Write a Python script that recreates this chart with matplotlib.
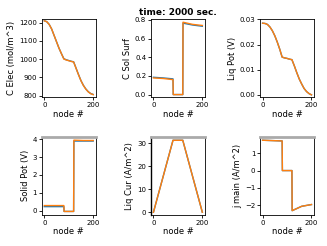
import matplotlib
matplotlib.use('Agg')
import matplotlib.pyplot as plt

# node positions (anode 0-80, separator 80-120, cathode 120-200)
nodes_smooth = [0, 10, 20, 30, 40, 50, 60, 70, 80, 90, 100, 110, 120, 130, 140, 150, 160, 170, 180, 190, 200]
nodes_step = [0, 40, 80, 81, 100, 119, 120, 121, 160, 200]
nodes_cur = [0, 80, 120, 200]

c_elec_prev = [1210, 1205, 1190, 1165, 1130, 1095, 1060, 1030, 1002, 996, 992, 988, 985, 950, 915, 882, 856, 836, 821, 811, 806]
c_elec = [1210, 1205, 1190, 1165, 1130, 1095, 1060, 1030, 1000, 995, 991, 987, 984, 949, 914, 881, 855, 835, 820, 810, 805]

c_sol_prev = [0.185, 0.178, 0.168, 0.0, 0.0, 0.0, 0.0, 0.765, 0.745, 0.732]
c_sol = [0.178, 0.172, 0.160, 0.0, 0.0, 0.0, 0.0, 0.775, 0.752, 0.740]

liq_pot_prev = [0.0285, 0.0284, 0.0280, 0.0270, 0.0255, 0.0235, 0.0210, 0.0182, 0.0150, 0.0147, 0.0145, 0.0142, 0.0140, 0.0115, 0.0088, 0.0063, 0.0043, 0.0025, 0.0013, 0.0005, 0.0]
liq_pot = [0.0285, 0.0284, 0.0280, 0.0270, 0.0255, 0.0235, 0.0210, 0.0182, 0.0150, 0.0147, 0.0145, 0.0142, 0.0140, 0.0115, 0.0088, 0.0063, 0.0043, 0.0025, 0.0013, 0.0005, 0.0]

solid_pot_prev = [0.22, 0.22, 0.22, -0.05, -0.05, -0.05, -0.05, 3.90, 3.90, 3.90]
solid_pot = [0.28, 0.28, 0.28, -0.05, -0.05, -0.05, -0.05, 3.95, 3.93, 3.93]

liq_cur_prev = [0, 31.2, 31.2, 0]
liq_cur = [0, 31.2, 31.2, 0]

j_main_prev = [1.74, 1.72, 1.70, 0.0, 0.0, 0.0, 0.0, -2.30, -2.05, -1.95]
j_main = [1.74, 1.72, 1.70, 0.0, 0.0, 0.0, 0.0, -2.30, -2.05, -1.95]

panels = [
    ('C Elec (mol/m^3)', nodes_smooth, c_elec_prev, c_elec, [800, 900, 1000, 1100, 1200]),
    ('C Sol Surf', nodes_step, c_sol_prev, c_sol, [0.0, 0.2, 0.4, 0.6, 0.8]),
    ('Liq Pot (V)', nodes_smooth, liq_pot_prev, liq_pot, [0.00, 0.01, 0.02, 0.03]),
    ('Solid Pot (V)', nodes_step, solid_pot_prev, solid_pot, [0, 1, 2, 3, 4]),
    ('Liq Cur (A/m^2)', nodes_cur, liq_cur_prev, liq_cur, [0, 10, 20, 30]),
    ('j main (A/m^2)', nodes_step, j_main_prev, j_main, [-2, -1, 0, 1]),
]

fig, axes = plt.subplots(2, 3, figsize=(3.27, 2.46), dpi=100)
plt.subplots_adjust(left=0.128, right=0.96, top=0.923, bottom=0.126, wspace=1.03, hspace=0.5)

for i, (ax, (label, x, yprev, y, ticks)) in enumerate(zip(axes.flat, panels)):
    ax.plot(x, yprev, color='#1f77b4', lw=1.0)
    ax.plot(x, y, color='#ff7f0e', lw=1.0)
    ax.set_ylabel(label, fontsize=6, labelpad=2)
    ax.set_xlabel('node #', fontsize=6, labelpad=1)
    ax.set_xticks([0, 200])
    ax.set_yticks(ticks)
    ax.tick_params(labelsize=5, length=2, pad=1.5, width=0.6)
    for s in ax.spines.values():
        s.set_linewidth(0.6)
    if i >= 3:
        ax.spines['top'].set_color('#aaaaaa')
        ax.spines['top'].set_linewidth(2)

axes[1, 1].spines['left'].set_linewidth(1.0)

axes[0, 0].set_ylim(790, 1220)
axes[0, 1].set_ylim(-0.03, 0.81)
axes[0, 2].set_ylim(-0.001, 0.0302)
axes[1, 0].set_ylim(-0.25, 4.15)
axes[1, 1].set_ylim(-1.2, 32.8)
axes[1, 2].set_ylim(-2.55, 1.95)
axes[0, 1].set_title('time: 2000 sec.', fontsize=6.5, fontweight='bold', pad=3)

plt.savefig('out.png', dpi=100)
